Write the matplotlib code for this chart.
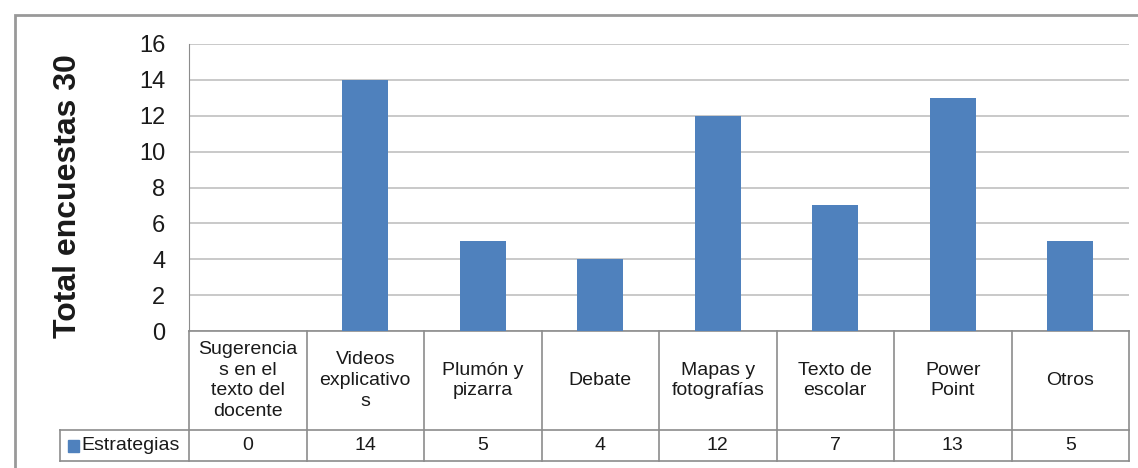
import matplotlib.pyplot as plt
from matplotlib.patches import Rectangle
from matplotlib.lines import Line2D

plt.rcParams['font.family'] = ['Liberation Sans', 'DejaVu Sans']

categorias = ['Sugerencia\ns en el\ntexto del\ndocente', 'Videos\nexplicativo\ns',
              'Plumón y\npizarra', 'Debate', 'Mapas y\nfotografías',
              'Texto de\nescolar', 'Power\nPoint', 'Otros']
valores = [0, 14, 5, 4, 12, 7, 13, 5]
serie = 'Estrategias'
ylabel = 'Total encuestas 30'
yticks = [0, 2, 4, 6, 8, 10, 12, 14, 16]

azul = '#4f81bd'
gris = '#8c8c8c'
texto = '#1a1a1a'

fig = plt.figure(figsize=(11.38, 4.68), dpi=100)
ax = fig.add_axes([189 / 1138, 1 - 331 / 468, 940 / 1138, 287 / 468])

# marco exterior del gráfico
fig.patches.append(Rectangle((15 / 1138, -0.1), 1.2, 1 - 15 / 468 + 0.1,
                             transform=fig.transFigure, fill=False,
                             edgecolor='#999999', linewidth=2))

x = range(len(valores))
ax.bar(x, valores, width=0.39, color=azul, zorder=3)
ax.set_xlim(-0.5, len(valores) - 0.5)
ax.set_ylim(0, 16)
ax.set_yticks(yticks)
ax.set_xticks([])
ax.grid(axis='y', color='#c0c0c0', linewidth=1.2, zorder=0)
ax.tick_params(axis='y', length=0, pad=17, labelsize=17, labelcolor=texto)
for s in ['top', 'right', 'bottom']:
    ax.spines[s].set_visible(False)
ax.spines['left'].set_color(gris)
ax.set_ylabel(ylabel, fontsize=23, fontweight='bold', color=texto)
ax.yaxis.set_label_coords(-0.113, 0.47)

# tabla de datos bajo el eje
y1 = -99 / 287
y2 = -130 / 287
xl = -0.5 - 129 / 117.5
tr = ax.get_xaxis_transform()
lw = 1.2
for xe in [i - 0.5 for i in range(len(valores) + 1)]:
    ax.add_line(Line2D([xe, xe], [0, y2], transform=tr, color=gris, lw=lw, clip_on=False))
ax.add_line(Line2D([-0.5, len(valores) - 0.5], [0, 0], transform=tr, color=gris, lw=lw, clip_on=False))
for yy in [y1, y2]:
    ax.add_line(Line2D([xl, len(valores) - 0.5], [yy, yy], transform=tr, color=gris, lw=lw, clip_on=False))
ax.add_line(Line2D([xl, xl], [y1, y2], transform=tr, color=gris, lw=lw, clip_on=False))

for i, (c, v) in enumerate(zip(categorias, valores)):
    ax.text(i, y1 / 2, c, transform=tr, ha='center', va='center', fontsize=14,
            linespacing=1.28, color=texto)
    ax.text(i, (y1 + y2) / 2, str(v), transform=tr, ha='center', va='center',
            fontsize=14, color=texto)

ax.add_patch(Rectangle((xl + 8 / 117.5, (y1 + y2) / 2 - 6 / 287), 11 / 117.5, 12 / 287,
                       transform=tr, color=azul, clip_on=False))
ax.text(xl + 21 / 117.5, (y1 + y2) / 2, serie, transform=tr, ha='left', va='center',
        fontsize=14, color=texto)

fig.savefig('out.png', dpi=100, facecolor='white')
